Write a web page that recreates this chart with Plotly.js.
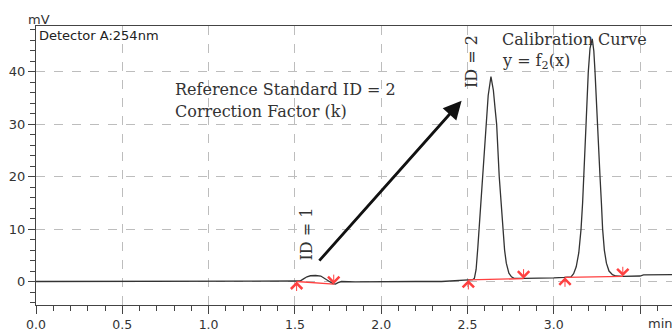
<!DOCTYPE html>
<html>
<head>
<meta charset="utf-8">
<script src="https://cdn.plot.ly/plotly-3.0.1.min.js"></script>
<style>html,body{margin:0;padding:0;background:#fff;}#chart{width:672px;height:331px;}</style>
</head>
<body>
<div id="chart"></div>
<script>
// Chromatogram signal (time in min, signal in mV)
const timeMin = [0.00,0.30,0.60,0.90,1.20,1.50,1.53,1.55,1.57,1.59,1.62,1.65,1.68,1.70,1.72,1.735,1.75,1.77,1.85,1.95,2.05,2.20,2.35,2.45,2.50,2.53,
  2.54,2.55,2.56,2.567,2.576,2.586,2.596,2.607,2.62,2.636,2.65,2.66,2.669,2.684,2.694,2.704,2.715,2.725,2.74,2.755,2.77,2.83,2.90,3.00,3.06,3.10,
  3.115,3.13,3.145,3.158,3.167,3.175,3.187,3.20,3.21,3.223,3.232,3.239,3.252,3.268,3.276,3.283,3.293,3.305,3.32,3.34,3.36,3.40,3.50,3.52,3.685];
const signalMv = [0.0,0.0,0.0,0.0,0.0,0.0,0.1,0.5,0.9,1.1,1.15,1.05,0.5,0.0,-0.4,-0.5,-0.2,0.0,-0.05,0.0,0.05,0.0,0.0,0.15,0.3,0.35,
  0.6,2.3,6.5,10,15,20,25,30,35.5,39.1,36.5,33,30,20,15,10,6,3.5,1.6,0.9,0.6,0.6,0.6,0.7,0.8,0.9,
  1.5,2.8,5.5,10,15,20,30,40,44.5,46.3,44,40,30,20,15,10,6,3.5,2.0,1.3,1.05,1.0,1.05,1.25,1.3];

// Integration baselines (red): start / end of each peak
const peakStartMin = [1.51, 2.505, 3.065];
const peakStartMv  = [0.0, 0.3, 0.8];
const peakEndMin   = [1.725, 2.825, 3.40];
const peakEndMv    = [-0.5, 0.55, 1.0];

// Tick labels (the 3.5 position carries no label; "min" sits there)
const xTicks = [0, 0.5, 1.0, 1.5, 2.0, 2.5, 3.0, 3.5];
const xTickText = ['0.0','0.5','1.0','1.5','2.0','2.5','3.0',''];
const yTicks = [0, 10, 20, 30, 40];
const yTickText = ['0','10','20','30','40'];

const red = '#ff4040';
const axisCol = '#444444';
const sans = 'DejaVu Sans, Liberation Sans, Arial, sans-serif';
const serif = 'DejaVu Serif, Liberation Serif, serif';
const serifSize = 16;

const traces = [
  {x: timeMin, y: signalMv, type: 'scatter', mode: 'lines',
   line: {color: '#333333', width: 1.3}, hoverinfo: 'skip', showlegend: false}
];
for (let i = 0; i < peakStartMin.length; i++) {
  traces.push({x: [peakStartMin[i], peakEndMin[i]], y: [peakStartMv[i], peakEndMv[i]],
    type: 'scatter', mode: 'lines', line: {color: red, width: 1.3}, hoverinfo: 'skip', showlegend: false});
}

const annotations = [];
for (let i = 0; i < peakStartMin.length; i++) {
  annotations.push({x: peakStartMin[i], y: peakStartMv[i], xref: 'x', yref: 'y', text: '',
    showarrow: true, ax: 0, ay: 11, arrowhead: 4, arrowsize: 2.2, arrowwidth: 1, arrowcolor: red, standoff: 0});
  annotations.push({x: peakEndMin[i], y: peakEndMv[i], xref: 'x', yref: 'y', text: '',
    showarrow: true, ax: 0, ay: -11, arrowhead: 4, arrowsize: 2.2, arrowwidth: 1, arrowcolor: red, standoff: 0});
}
// big black arrow
annotations.push({x: 2.466, y: 34.5, ax: 1.634, ay: 3.7, xref: 'x', yref: 'y', axref: 'x', ayref: 'y',
  text: '', showarrow: true, arrowhead: 2, arrowsize: 1.3, arrowwidth: 2.8, arrowcolor: '#111111', standoff: 0});
// texts
annotations.push({x: 0.795, y: 36.7, xref: 'x', yref: 'y', xanchor: 'left', yanchor: 'middle', showarrow: false,
  text: 'Reference Standard ID = 2', font: {family: serif, size: serifSize, color: '#333'}});
annotations.push({x: 0.795, y: 32.5, xref: 'x', yref: 'y', xanchor: 'left', yanchor: 'middle', showarrow: false,
  text: 'Correction Factor (k)', font: {family: serif, size: serifSize, color: '#333'}});
annotations.push({x: 2.69, y: 46.1, xref: 'x', yref: 'y', xanchor: 'left', yanchor: 'middle', showarrow: false,
  text: 'Calibration Curve', font: {family: serif, size: serifSize, color: '#333'}});
annotations.push({x: 2.69, y: 42.0, xref: 'x', yref: 'y', xanchor: 'left', yanchor: 'middle', showarrow: false,
  text: 'y = f<sub>2</sub>(x)', font: {family: serif, size: serifSize, color: '#333'}});
annotations.push({x: 1.568, y: 9.1, xref: 'x', yref: 'y', xanchor: 'center', yanchor: 'middle', showarrow: false,
  textangle: -90, text: 'ID = 1', font: {family: serif, size: serifSize, color: '#333'}});
annotations.push({x: 2.524, y: 42.0, xref: 'x', yref: 'y', xanchor: 'center', yanchor: 'middle', showarrow: false,
  textangle: -90, text: 'ID = 2', font: {family: serif, size: serifSize, color: '#333'}});
annotations.push({x: 0.002, y: 1.0, xref: 'paper', yref: 'paper', xanchor: 'left', yanchor: 'top', showarrow: false,
  text: 'Detector A:254nm', font: {family: sans, size: 13, color: '#222'}});
annotations.push({x: 0.005, y: 1.025, xref: 'paper', yref: 'paper', xanchor: 'center', yanchor: 'middle', showarrow: false,
  text: 'mV', font: {family: sans, size: 13, color: '#333'}});
annotations.push({x: 0.959, y: -0.068, xref: 'paper', yref: 'paper', xanchor: 'left', yanchor: 'middle', showarrow: false,
  text: 'min', font: {family: sans, size: 13, color: '#333'}});

const layout = {
  width: 672, height: 331,
  margin: {l: 36, r: 0, t: 26, b: 26, pad: 0},
  paper_bgcolor: '#ffffff', plot_bgcolor: '#ffffff',
  showlegend: false,
  xaxis: {range: [0, 3.685], tickvals: xTicks, ticktext: xTickText, ticks: 'outside', ticklen: 8, tickwidth: 1,
    tickcolor: axisCol, showline: true, linecolor: axisCol, linewidth: 1, mirror: true,
    showgrid: true, gridcolor: '#bdbdbd', griddash: 'dash', gridwidth: 1, zeroline: false,
    minor: {dtick: 0.1, tick0: 0, ticks: 'outside', ticklen: 5, tickcolor: axisCol, showgrid: false},
    tickfont: {family: sans, size: 12.5, color: '#333'}, fixedrange: true},
  yaxis: {range: [-4.48, 48.76], tickvals: yTicks, ticktext: yTickText, ticks: 'outside', ticklen: 7, tickwidth: 1,
    tickcolor: axisCol, showline: true, linecolor: axisCol, linewidth: 1,
    showgrid: true, gridcolor: '#bdbdbd', griddash: 'dash', gridwidth: 1, zeroline: false,
    minor: {dtick: 2, tick0: 0, ticks: 'outside', ticklen: 5, tickcolor: axisCol, showgrid: false},
    tickfont: {family: sans, size: 13, color: '#333'}, fixedrange: true},
  annotations: annotations
};

Plotly.newPlot('chart', traces, layout, {displayModeBar: false, staticPlot: true});
</script>
</body>
</html>
